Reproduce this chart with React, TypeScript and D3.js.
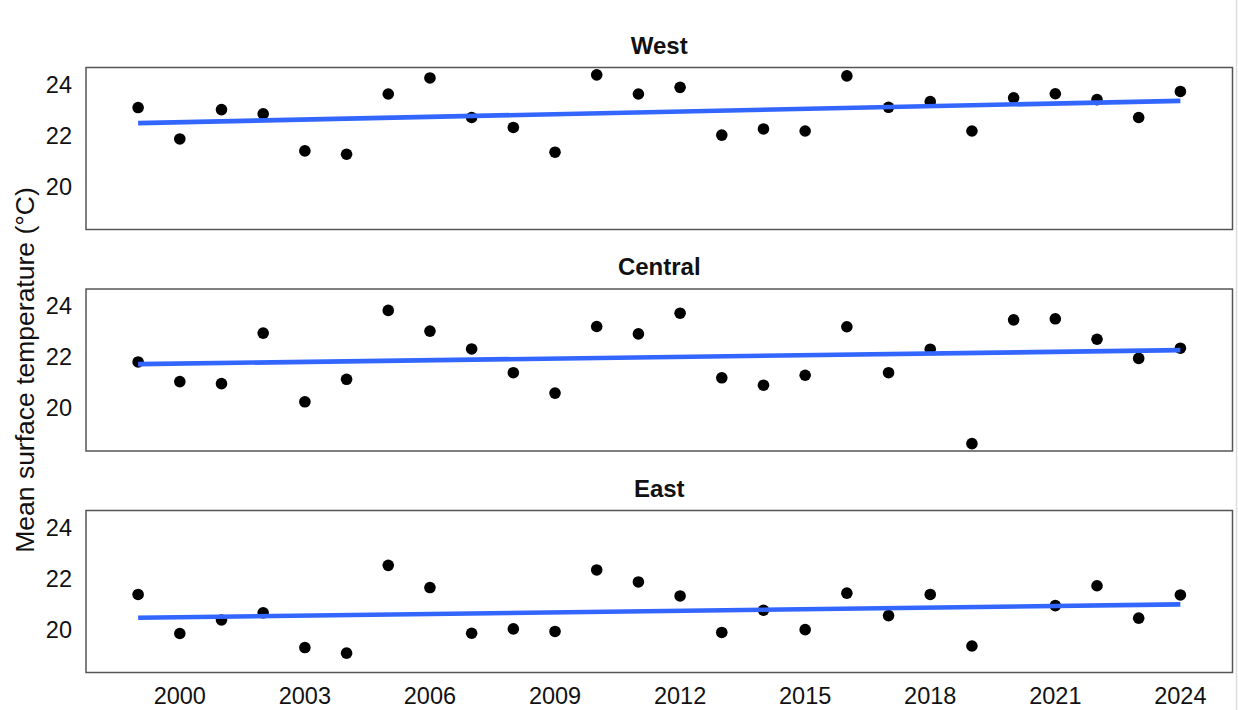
import React from "react";
import * as d3 from "d3";

// Annual mean surface temperature by region, 1999–2024
const years = d3.range(1999, 2025);
const regions = ["West", "Central", "East"];

const westTemps = [
  23.08, 21.85, 23.0, 22.83, 21.38, 21.25, 23.61, 24.24, 22.69, 22.3, 21.33, 24.36, 23.61,
  23.87, 22.0, 22.24, 22.16, 24.32, 23.09, 23.31, 22.16, 23.46, 23.62, 23.39, 22.69, 23.71,
];
const centralTemps = [
  21.79, 21.02, 20.94, 22.92, 20.23, 21.11, 23.81, 23.0, 22.3, 21.37, 20.57, 23.18, 22.89,
  23.7, 21.17, 20.88, 21.27, 23.17, 21.37, 22.29, 18.59, 23.44, 23.48, 22.68, 21.93, 22.33,
];
// East has no observation for 2020
const eastTemps: (number | null)[] = [
  21.36, 19.83, 20.36, 20.64, 19.28, 19.06, 22.5, 21.63, 19.84, 20.01, 19.91, 22.32, 21.85,
  21.3, 19.87, 20.74, 19.98, 21.41, 20.53, 21.36, 19.34, null, 20.92, 21.7, 20.43, 21.34,
];

const xTicks = [2000, 2003, 2006, 2009, 2012, 2015, 2018, 2021, 2024];
const yTicks = [20, 22, 24];

const seriesByRegion: (number | null)[][] = [westTemps, centralTemps, eastTemps];

const W = 1238;
const H = 710;
const panelLeft = 86;
const panelRight = 1232.5;
const panelTop0 = 67.5;
const panelStep = 221.5;
const panelH = 162;

type Pt = { year: number; value: number };

function fitLine(pts: Pt[]) {
  const mx = d3.mean(pts, (p) => p.year)!;
  const my = d3.mean(pts, (p) => p.value)!;
  let sxy = 0;
  let sxx = 0;
  for (const p of pts) {
    sxy += (p.year - mx) * (p.value - my);
    sxx += (p.year - mx) * (p.year - mx);
  }
  const slope = sxy / sxx;
  const intercept = my - slope * mx;
  return (x: number) => intercept + slope * x;
}

export default function App() {
  const data: Pt[][] = seriesByRegion.map((vals) =>
    years
      .map((year, i) => ({ year, value: vals[i] as number }))
      .filter((d) => d.value != null)
  );

  const xExt = d3.extent(years) as [number, number];
  const xPad = (xExt[1] - xExt[0]) * 0.05;
  const x = d3
    .scaleLinear()
    .domain([xExt[0] - xPad, xExt[1] + xPad])
    .range([panelLeft, panelRight]);

  const allVals = data.flat().map((d) => d.value);
  const yExt = d3.extent(allVals) as [number, number];
  const yPad = (yExt[1] - yExt[0]) * 0.05;
  const yDomain: [number, number] = [yExt[0] - yPad, yExt[1] + yPad];

  const font = "'Liberation Sans', Arial, sans-serif";

  return (
    <div style={{ position: "absolute", left: 0, top: 0 }}>
      <svg width={W} height={H} style={{ display: "block", background: "#fff" }}>
        {regions.map((name, ri) => {
          const top = panelTop0 + ri * panelStep;
          const y = d3.scaleLinear().domain(yDomain).range([top + panelH, top]);
          const pts = data[ri];
          const f = fitLine(pts);
          const xr = d3.extent(pts, (p) => p.year) as [number, number];
          const line = d3
            .line<number>()
            .x((d) => x(d))
            .y((d) => y(f(d)));
          return (
            <g key={name}>
              <text
                x={(panelLeft + panelRight) / 2}
                y={top - 14}
                textAnchor="middle"
                fontFamily={font}
                fontWeight="bold"
                fontSize={24}
                fill="#111"
              >
                {name}
              </text>
              <rect
                x={panelLeft}
                y={top}
                width={panelRight - panelLeft}
                height={panelH}
                fill="#fff"
                stroke="#555"
                strokeWidth={1.5}
              />
              {yTicks.map((t) => (
                <text
                  key={t}
                  x={panelLeft - 14}
                  y={y(t)}
                  dy="0.36em"
                  textAnchor="end"
                  fontFamily={font}
                  fontSize={23.5}
                  fill="#111"
                >
                  {t}
                </text>
              ))}
              {pts.map((p) => (
                <circle key={p.year} cx={x(p.year)} cy={y(p.value)} r={5.8} fill="#000" />
              ))}
              <path d={line(xr) || ""} stroke="#3366FF" strokeWidth={4.6} fill="none" />
            </g>
          );
        })}
        {xTicks.map((t) => (
          <text
            key={t}
            x={x(t)}
            y={panelTop0 + 2 * panelStep + panelH + 31}
            textAnchor="middle"
            fontFamily={font}
            fontSize={23.5}
            fill="#111"
          >
            {t}
          </text>
        ))}
        <text
          transform={`translate(34, ${(panelTop0 + panelTop0 + 2 * panelStep + panelH) / 2}) rotate(-90)`}
          textAnchor="middle"
          fontFamily={font}
          fontSize={26.5}
          fill="#111"
        >
          Mean surface temperature (°C)
        </text>
        <line x1={1236.5} x2={1236.5} y1={0} y2={H} stroke="#ddd" strokeWidth={1.5} />
      </svg>
    </div>
  );
}
